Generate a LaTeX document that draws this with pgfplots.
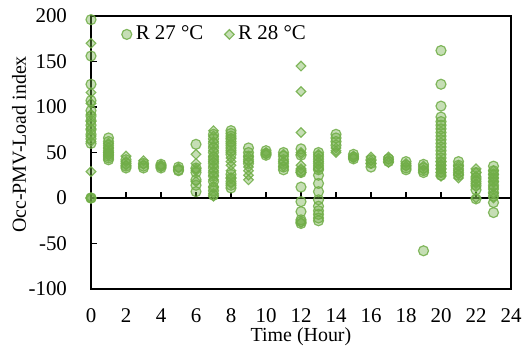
\documentclass[border=0pt]{standalone}
\usepackage{pgfplots}
\pgfplotsset{compat=1.18}
\usepackage{fontspec}
\setmainfont{Liberation Serif}
\definecolor{xg}{HTML}{70AD47}
\newcommand{\fs}{\fontsize{10.5}{12.6}\selectfont}
\newcommand{\fl}{\fontsize{11.4}{13.7}\selectfont}
\begin{document}
\begin{tikzpicture}
\begin{axis}[name=ax,
  scale only axis, width=210bp, height=136.5bp,
  xmin=0, xmax=24, ymin=-100, ymax=200,
  xtick={0,2,...,24}, ytick={-100,-50,...,200},
  xtick style={draw=none},
  ytick pos=left, ytick align=inside,
  major tick length=3.2bp,
  tick style={black, line width=0.8bp},
  axis line style={black, line width=0.9bp},
  /pgf/number format/assume math mode=true,
  tick label style={font=\fs},
  xticklabel style={yshift=-6.5bp},
  yticklabel style={xshift=-8.5bp},
  clip=false,
  xlabel={Time (Hour)}, ylabel={Occ-PMV-Load index},
  label style={font=\fl},
  every axis x label/.style={at={([yshift=-23.7bp]axis description cs:0.5,0)}, anchor=center},
  every axis y label/.style={at={([xshift=-36bp,yshift=4bp]axis description cs:0,0.5)}, anchor=center, rotate=90},
  legend style={at={([xshift=15.2bp,yshift=-9.2bp]axis description cs:0,1)}, anchor=west,
    draw=none, fill=none, inner sep=0pt, font=\fs, legend columns=2,
    /tikz/every even column/.append style={column sep=8.6bp}},
  legend image code/.code={\draw[#1] plot coordinates {(0bp,0bp)};},
]
\pgfplotsinvokeforeach{2,4,...,22}{\draw[black, line width=0.8bp] (axis cs:#1,0) -- (axis cs:#1,7);}
\draw[black, line width=0.9bp] (axis cs:0,0) -- (axis cs:24,0);
\addplot[only marks, mark=*, mark size=2.5bp, draw=xg, draw opacity=0.85, fill=xg, fill opacity=0.4, line width=0.6bp] table {
x y
0 196
0 156
0 125
0 107
0 96
0 90
0 85
0 80
0 75
0 70
0 65
0 60
0 0
0 0
1 66
1 62
1 58
1 55
1 52
1 50
1 48
1 46
1 44
1 42
2 42
2 38
2 35
2 33
3 38
3 35
3 33
4 37
4 35
4 33
5 34
5 31
5 30
6 59
6 33
6 28
6 20
6 14
6 7
7 70
7 65
7 60
7 55
7 50
7 45
7 42
7 38
7 33
7 28
7 24
7 18
7 12
7 8
7 3
8 74
8 71
8 68
8 65
8 62
8 58
8 55
8 52
8 48
8 26
8 22
8 18
8 14
8 11
9 55
9 50
9 46
9 42
9 38
10 52
10 49
10 47
11 50
11 46
11 42
11 38
11 34
11 31
12 54
12 47
12 30
12 28
12 12
12 -4
12 -15
12 -24
12 -26
12 -28
13 50
13 46
13 42
13 38
13 34
13 31
13 25
13 16
13 7
13 -2
13 -9
13 -14
13 -18
13 -22
13 -25
14 70
14 66
14 62
14 58
15 48
15 45
15 43
16 42
16 38
16 34
17 43
17 40
18 40
18 36
18 33
18 31
19 37
19 33
19 30
19 28
19 -58
20 162
20 125
20 101
20 89
20 84
20 80
20 76
20 72
20 68
20 64
20 60
20 56
20 52
20 48
20 44
20 40
20 36
20 32
20 28
20 25
21 40
21 36
21 32
21 28
21 25
22 28
22 22
22 18
22 14
22 9
22 -1
23 35
23 30
23 26
23 22
23 18
23 14
23 10
23 6
23 2
23 -5
23 -16
};
\addlegendentry{R 27 °C}
\addplot[only marks, mark=square*, mark size=1.7bp, mark options={rotate=45}, draw=xg, draw opacity=0.85, fill=xg, fill opacity=0.4, line width=0.6bp] table {
x y
0 170
0 116
0 104
0 92
0 84
0 76
0 68
0 62
0 29
0 0
1 60
1 55
1 50
1 47
2 46
2 40
2 36
3 41
3 37
4 36
4 34
5 33
6 48
6 38
6 32
6 30
6 18
7 74
7 68
7 62
7 57
7 52
7 46
7 40
7 35
7 30
7 25
7 20
7 12
7 5
7 2
8 66
8 60
8 50
8 44
8 40
8 36
8 30
8 22
8 16
9 45
9 40
9 34
9 30
9 25
9 20
10 50
10 48
11 48
11 40
11 35
12 145
12 117
12 72
12 50
12 48
12 36
12 32
12 28
12 -27
13 48
13 44
13 40
13 36
13 32
14 55
14 52
14 50
15 46
15 44
16 45
16 41
16 38
17 45
17 42
17 39
18 38
18 35
19 35
19 31
20 40
20 36
20 32
20 28
20 24
21 35
21 30
21 26
21 22
22 32
22 28
22 24
22 20
22 16
22 12
22 0
23 30
23 26
23 22
23 18
23 12
23 5
23 0
};
\addlegendentry{R 28 °C}
\end{axis}
\pgfresetboundingbox
\path[use as bounding box] ([xshift=-45.5bp,yshift=-30bp]ax.south west) rectangle ([xshift=7bp,yshift=8bp]ax.north east);
\end{tikzpicture}
\end{document}
